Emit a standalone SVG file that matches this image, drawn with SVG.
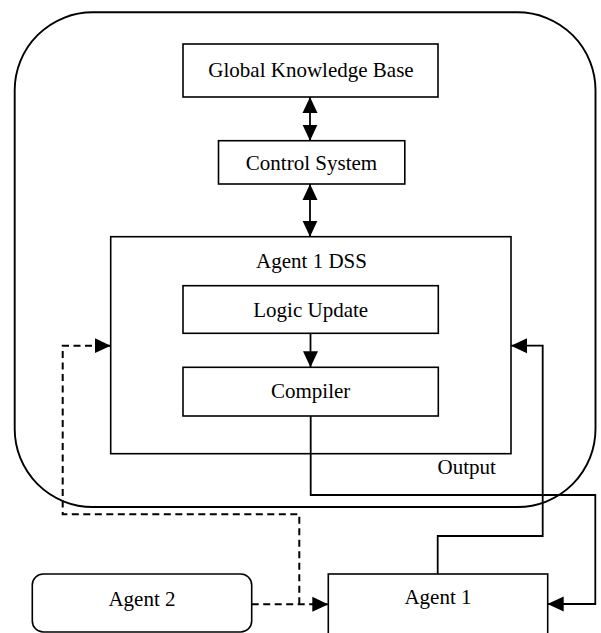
<svg xmlns="http://www.w3.org/2000/svg" width="601" height="633" viewBox="0 0 601 633">
<style>
.box{fill:#fff;stroke:#000;stroke-width:1.6}
.outer{fill:none;stroke:#000;stroke-width:1.9}
.lbl{font-family:"Liberation Serif","Times New Roman",serif;font-size:21px;fill:#000;text-anchor:middle}
.c{fill:none;stroke:#000;stroke-width:1.8}
.d{fill:none;stroke:#000;stroke-width:2;stroke-dasharray:7 4.5}
</style>
<defs>
<marker id="ah" markerUnits="userSpaceOnUse" markerWidth="16" markerHeight="16" viewBox="0 0 16 16" refX="16" refY="8" orient="auto-start-reverse">
<path d="M0,0.5 L16,8 L0,15.5 z" fill="#000"/>
</marker>
</defs>
<rect width="601" height="633" fill="#fff"/>
<g id="outer-system"><rect class="outer" x="14.7" y="12.3" width="580.8" height="494.7" rx="78" ry="78"/></g>
<g id="global-knowledge-base"><rect class="box" x="183" y="44" width="255" height="53"/><text class="lbl" x="311" y="76.5">Global Knowledge Base</text></g>
<g id="control-system"><rect class="box" x="218.5" y="140.7" width="186.3" height="43.3"/><text class="lbl" x="311.5" y="170">Control System</text></g>
<g id="agent1-dss"><rect class="box" x="110.7" y="236.7" width="400.3" height="217"/><text class="lbl" x="311.5" y="268">Agent 1 DSS</text></g>
<g id="logic-update"><rect class="box" x="183" y="285.7" width="255.3" height="47.6"/><text class="lbl" x="310.7" y="316.5">Logic Update</text></g>
<g id="compiler"><rect class="box" x="183" y="367.3" width="255.3" height="48.7"/><text class="lbl" x="310.7" y="397.5">Compiler</text></g>
<g id="agent2"><rect class="box" x="32.3" y="574" width="219.4" height="58" rx="11" ry="11"/><text class="lbl" x="142" y="605.5">Agent 2</text></g>
<g id="agent1"><rect class="box" x="328.3" y="574" width="219.4" height="70"/><text class="lbl" x="438" y="604">Agent 1</text></g>
<g id="connectors">
<path class="c" d="M310,97 V140.7" marker-start="url(#ah)" marker-end="url(#ah)"/>
<path class="c" d="M310,184 V236.7" marker-start="url(#ah)" marker-end="url(#ah)"/>
<path class="c" d="M310.5,333.3 V367.3" marker-end="url(#ah)"/>
<path class="c" d="M310.7,416 V495 H595.3 V604 H547.7" marker-end="url(#ah)"/>
<path class="c" d="M437.7,574 V536 H542.7 V345.7 H511" marker-end="url(#ah)"/>
<path class="d" d="M251.7,604.3 H328.3" marker-end="url(#ah)"/>
<path class="d" d="M299.3,604.3 V514.3 H62.7 V345.7 H110.7" marker-end="url(#ah)"/>
<text class="lbl" x="466.7" y="474">Output</text>
</g>
</svg>
